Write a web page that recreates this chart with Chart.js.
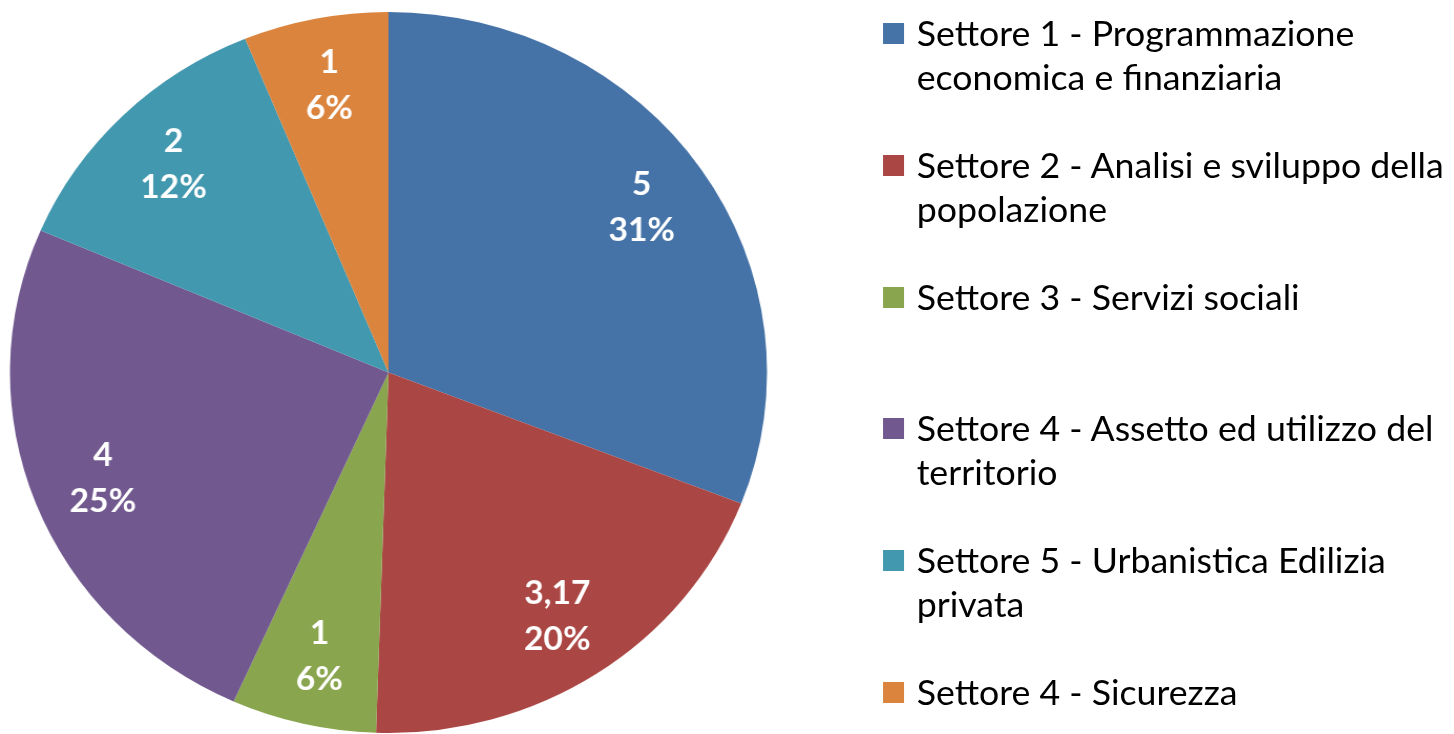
<!DOCTYPE html>
<html>
<head>
<meta charset="utf-8">
<script src="https://cdn.jsdelivr.net/npm/chart.js@4.4.0/dist/chart.umd.min.js"></script>
<style>
  html, body { margin: 0; padding: 0; background: #fff; }
  body { width: 1454px; height: 734px; overflow: hidden; }
  #stage {
    position: absolute; left: 0; top: 0;
    width: 1385px; height: 734px;
    transform: scaleX(1.05); transform-origin: 0 0;
  }
  #pieBox { position: absolute; left: 0; top: 0; width: 740px; height: 734px; }
  #legend {
    position: absolute; left: 841px; top: 11px;
    font-family: Lato, "Open Sans", sans-serif; font-size: 34px; color: #000;
  }
  .item { position: relative; height: 131.8px; }
  .box { position: absolute; left: 0; top: 12px; width: 20px; height: 21px; }
  .txt { position: absolute; left: 32px; top: 0; line-height: 44px; white-space: nowrap; }
</style>
</head>
<body>
<div id="stage">
  <div id="pieBox"><canvas id="pieChart"></canvas></div>
  <div id="legend"></div>
</div>
<script>
// labels (multi-line, as in the original legend)
var categories = [
    ['Settore 1 - Programmazione', 'economica e finanziaria'],
    ['Settore 2 - Analisi e sviluppo della', 'popolazione'],
    ['Settore 3 - Servizi sociali'],
    ['Settore 4 - Assetto ed utilizzo  del', 'territorio'],
    ['Settore 5 - Urbanistica Edilizia', 'privata'],
    ['Settore 4 - Sicurezza']
];
var values = [5, 3.17, 1, 4, 2, 1];
var colors = ['#4572A7', '#AA4643', '#89A54E', '#71588F', '#4198AF', '#DB843D'];

// value + percentage inside each slice
var sliceLabels = {
    id: 'sliceLabels',
    afterDatasetsDraw: function(chart) {
        var ctx = chart.ctx;
        var data = chart.data.datasets[0].data;
        var total = data.reduce(function(a, b) { return a + b; }, 0);
        var meta = chart.getDatasetMeta(0);
        ctx.save();
        ctx.fillStyle = '#fff';
        ctx.font = 'bold 32px Lato, "Open Sans", sans-serif';
        ctx.textAlign = 'center';
        ctx.textBaseline = 'middle';
        meta.data.forEach(function(arc, i) {
            var p = arc.getProps(['x', 'y', 'startAngle', 'endAngle', 'outerRadius'], true);
            var mid = (p.startAngle + p.endAngle) / 2;
            var r = p.outerRadius * 0.81;
            var x = p.x + Math.cos(mid) * r;
            var y = p.y + Math.sin(mid) * r;
            var v = String(data[i]).replace('.', ',');
            var pct = Math.round(data[i] / total * 100) + '%';
            ctx.fillText(v, x, y - 23);
            ctx.fillText(pct, x, y + 23);
        });
        ctx.restore();
    }
};

var ctx = document.getElementById('pieChart').getContext('2d');
var pieChart = new Chart(ctx, {
    type: 'pie',
    data: {
        labels: categories,
        datasets: [{
            data: values,
            backgroundColor: colors,
            borderWidth: 0
        }]
    },
    options: {
        responsive: true,
        maintainAspectRatio: false,
        animation: false,
        layout: { padding: { top: 12, bottom: 1 } },
        plugins: {
            legend: { display: false },
            tooltip: { enabled: false }
        }
    },
    plugins: [sliceLabels]
});

// html legend built from the chart data
var legendEl = document.getElementById('legend');
pieChart.data.labels.forEach(function(lbl, i) {
    var item = document.createElement('div');
    item.className = 'item';
    var box = document.createElement('div');
    box.className = 'box';
    box.style.background = pieChart.data.datasets[0].backgroundColor[i];
    var txt = document.createElement('div');
    txt.className = 'txt';
    txt.innerHTML = lbl.join('<br>');
    item.appendChild(box);
    item.appendChild(txt);
    legendEl.appendChild(item);
});
</script>
</body>
</html>
